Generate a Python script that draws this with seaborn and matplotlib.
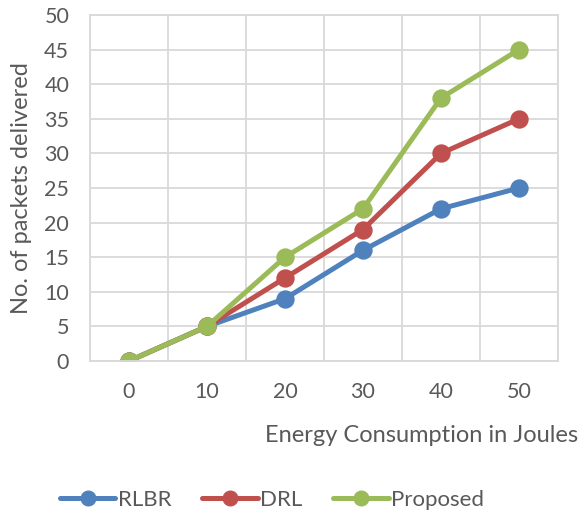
import matplotlib
matplotlib.use("Agg")
import matplotlib.pyplot as plt
from matplotlib.lines import Line2D
import seaborn as sns
import pandas as pd

energy = ["0", "10", "20", "30", "40", "50"]
rlbr = [0, 5, 9, 16, 22, 25]
drl = [0, 5, 12, 19, 30, 35]
proposed = [0, 5, 15, 22, 38, 45]
series_names = ["RLBR", "DRL", "Proposed"]
colors = ["#4F81BD", "#C0504D", "#9BBB59"]

df = pd.DataFrame({
    "energy": energy * 3,
    "packets": rlbr + drl + proposed,
    "scheme": [s for s in series_names for _ in energy],
})

sns.set_theme(style="white")
plt.rcParams["font.family"] = ["Lato", "DejaVu Sans"]
text_color = "#595959"
grid_color = "#D9D9D9"

fig = plt.figure(figsize=(5.82, 5.15), dpi=100)
ax = fig.add_axes([90 / 582, 1 - 361 / 515, (558 - 90) / 582, (361 - 15) / 515])

sns.pointplot(data=df, x="energy", y="packets", hue="scheme", order=energy,
              hue_order=series_names, palette=colors, markers="o",
              markersize=10.5, linewidth=3.6, errorbar=None, ax=ax, legend=False)

ax.set_xlim(-0.5, 5.5)
ax.set_ylim(0, 50)
ax.set_yticks(range(0, 51, 5))
ax.set_xticks([i + 0.5 for i in range(-1, 6)], minor=True)
ax.grid(False)
ax.grid(True, which="minor", axis="x", color=grid_color, linewidth=1.3)
ax.grid(True, which="major", axis="y", color=grid_color, linewidth=1.3)
ax.set_axisbelow(True)
for sp in ax.spines.values():
    sp.set_visible(True)
    sp.set_color(grid_color)
    sp.set_linewidth(1.3)
ax.tick_params(which="both", length=0, labelsize=15.5, labelcolor=text_color)
ax.tick_params(axis="y", pad=15)
ax.tick_params(axis="x", pad=15)
ax.set_xlabel("")
ax.set_ylabel("")

fig.text(22 / 582, 1 - 188 / 515, "No. of packets delivered", rotation=90,
         ha="center", va="center", fontsize=17, color=text_color)
fig.text(578 / 582, 1 - 436 / 515, "Energy Consumption in Joules",
         ha="right", va="center", fontsize=17, color=text_color)

handles = [Line2D([0], [0], color=c, linewidth=3.6, marker="o", markersize=10.5)
           for c in colors]
leg = fig.legend(handles, series_names, loc="center", ncol=3, frameon=False,
                 bbox_to_anchor=(272 / 582, 1 - 500 / 515), handlelength=2.5,
                 handletextpad=0.1, columnspacing=1.4, fontsize=16,
                 markerscale=1.0)
for t in leg.get_texts():
    t.set_color(text_color)

fig.savefig("out.png", dpi=100)
